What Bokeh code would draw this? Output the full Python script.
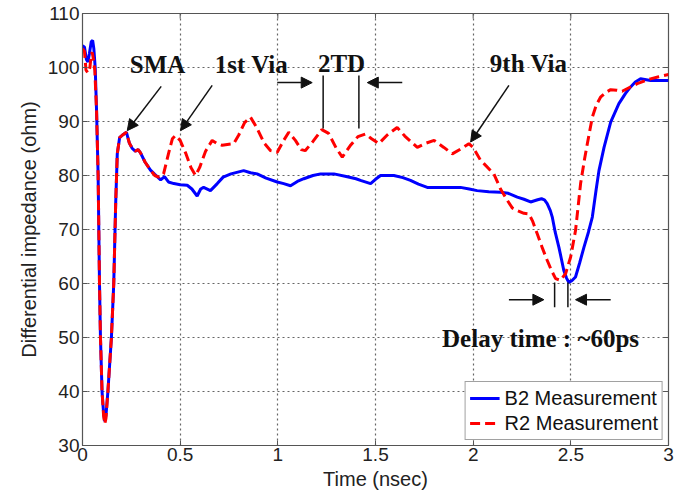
from bokeh.plotting import figure
from bokeh.models import (Range1d, FixedTicker, Legend, LegendItem,
                          Label, Arrow, NormalHead)
from bokeh.embed import file_html
from bokeh.resources import INLINE

# ---------------- data ----------------
b2_time = [0.000, 0.010, 0.020, 0.028, 0.035, 0.045, 0.052, 0.058, 0.065, 0.072,
           0.080, 0.087, 0.092, 0.100, 0.108, 0.114, 0.120, 0.130, 0.148, 0.160,
           0.170, 0.178, 0.190, 0.205, 0.225, 0.240, 0.255, 0.270, 0.285, 0.297,
           0.320, 0.348, 0.370, 0.400, 0.420, 0.440, 0.468, 0.500, 0.536, 0.560,
           0.587, 0.605, 0.620, 0.655, 0.690, 0.720, 0.760, 0.825, 0.860, 0.894,
           0.940, 0.997, 1.030, 1.065, 1.100, 1.133, 1.180, 1.219, 1.287, 1.350,
           1.400, 1.423, 1.475, 1.500, 1.526, 1.594, 1.640, 1.679, 1.720, 1.765,
           1.850, 1.935, 1.980, 2.020, 2.080, 2.140, 2.180, 2.226, 2.260, 2.294,
           2.330, 2.350, 2.365, 2.379, 2.395, 2.405, 2.420, 2.439, 2.452, 2.464,
           2.478, 2.490, 2.505, 2.524, 2.545, 2.567, 2.590, 2.610, 2.630, 2.644,
           2.670, 2.704, 2.746, 2.780, 2.806, 2.830, 2.857, 2.908, 2.950, 3.000]
b2_imp = [104.0, 103.8, 101.5, 101.0, 102.5, 104.8, 105.0, 103.5, 100.0, 92.0,
          80.0, 60.0, 50.0, 40.0, 36.0, 34.5, 35.5, 40.0, 50.0, 60.0,
          75.0, 84.0, 87.0, 87.5, 88.0, 86.0, 85.0, 84.5, 84.8, 84.2,
          82.5, 81.0, 80.2, 79.2, 79.8, 78.8, 78.5, 78.3, 78.2, 77.5,
          76.2, 77.5, 77.8, 77.2, 78.5, 79.7, 80.3, 80.9, 80.5, 80.3,
          79.5, 78.8, 78.5, 78.1, 78.9, 79.4, 80.0, 80.3, 80.3, 79.8,
          79.4, 79.1, 78.5, 79.3, 80.0, 80.0, 79.6, 79.1, 78.4, 77.8,
          77.8, 77.8, 77.5, 77.2, 77.0, 76.9, 76.7, 76.0, 75.6, 75.1,
          75.5, 75.7, 75.5, 74.8, 73.5, 72.3, 69.5, 66.7, 64.5, 62.4,
          61.0, 60.2, 60.5, 61.2, 63.8, 66.7, 69.5, 72.3, 77.5, 80.9,
          85.2, 89.9, 93.3, 95.2, 96.4, 97.3, 97.9, 97.6, 97.6, 97.6]

r2_time = [0.000, 0.010, 0.018, 0.028, 0.038, 0.045, 0.050, 0.056, 0.063, 0.072,
           0.080, 0.087, 0.092, 0.100, 0.108, 0.114, 0.120, 0.130, 0.148, 0.160,
           0.170, 0.178, 0.190, 0.205, 0.225, 0.240, 0.255, 0.270, 0.285, 0.297,
           0.320, 0.348, 0.370, 0.390, 0.405, 0.415, 0.440, 0.460, 0.476, 0.500,
           0.530, 0.555, 0.579, 0.600, 0.630, 0.664, 0.690, 0.715, 0.750, 0.774,
           0.800, 0.830, 0.860, 0.890, 0.930, 0.963, 0.997, 1.030, 1.056, 1.090,
           1.120, 1.140, 1.180, 1.225, 1.260, 1.300, 1.330, 1.370, 1.410, 1.449,
           1.480, 1.517, 1.560, 1.611, 1.650, 1.714, 1.760, 1.800, 1.850, 1.893,
           1.940, 1.978, 2.000, 2.038, 2.055, 2.106, 2.140, 2.175, 2.200, 2.226,
           2.260, 2.285, 2.305, 2.328, 2.355, 2.379, 2.400, 2.422, 2.447, 2.473,
           2.499, 2.524, 2.550, 2.570, 2.584, 2.610, 2.630, 2.652, 2.680, 2.704,
           2.735, 2.763, 2.800, 2.840, 2.908, 2.950, 3.000]
r2_imp = [103.5, 103.0, 99.5, 99.0, 100.0, 102.5, 102.8, 101.5, 99.5, 92.0,
          80.0, 60.0, 50.0, 40.0, 35.5, 34.0, 35.0, 40.0, 50.0, 60.0,
          75.0, 84.0, 87.0, 87.5, 88.0, 86.0, 85.0, 84.5, 84.8, 84.2,
          82.5, 81.0, 80.0, 79.7, 79.8, 80.3, 84.0, 86.8, 87.4, 86.5,
          84.0, 81.5, 80.0, 81.5, 84.5, 86.5, 85.9, 85.6, 85.8, 85.9,
          87.5, 89.8, 90.8, 89.0, 86.0, 84.6, 84.3, 86.5, 88.0, 86.5,
          84.8, 84.6, 86.3, 88.5, 87.8, 85.0, 83.4, 85.5, 87.2, 87.7,
          86.8, 85.9, 87.5, 88.9, 87.3, 85.2, 86.0, 86.5, 85.2, 84.0,
          85.0, 85.9, 85.2, 82.8, 82.2, 80.3, 77.5, 75.4, 74.0, 73.5,
          73.0, 72.9, 71.5, 69.2, 66.5, 64.3, 62.5, 60.9, 60.6, 61.8,
          64.9, 69.8, 78.5, 83.0, 85.8, 90.8, 93.0, 94.5, 95.4, 95.9,
          95.8, 95.6, 96.3, 97.0, 97.9, 98.3, 98.7]

series_names = ["B2 Measurement", "R2 Measurement"]
x_ticks = [0, 0.5, 1, 1.5, 2, 2.5, 3]
x_tick_labels = ["0", "0.5", "1", "1.5", "2", "2.5", "3"]
y_ticks = [30, 40, 50, 60, 70, 80, 90, 100, 110]
y_tick_labels = ["30", "40", "50", "60", "70", "80", "90", "100", "110"]

X0, X1, Y0, Y1 = 0, 3, 30, 110

# ---------------- figure ----------------
p = figure(width=690, height=493, output_backend="svg", toolbar_location=None,
           x_range=Range1d(X0, X1), y_range=Range1d(Y0, Y1),
           min_border_left=82, min_border_right=22, min_border_top=13,
           min_border_bottom=48, background_fill_color="white",
           border_fill_color="white")
p.outline_line_color = "#555555"
p.outline_line_width = 1.2

sans = "Liberation Sans"
for ax in (p.xaxis[0], p.yaxis[0]):
    ax.axis_line_color = "#555555"
    ax.major_tick_line_color = "#555555"
    ax.major_tick_in = 5
    ax.major_tick_out = 0
    ax.minor_tick_line_color = None
    ax.major_label_text_font = sans
    ax.major_label_text_font_size = "19px"
    ax.major_label_text_color = "#222222"
    ax.axis_label_text_font = sans
    ax.axis_label_text_font_size = "20px"
    ax.axis_label_text_font_style = "normal"
    ax.axis_label_text_color = "#222222"

p.xaxis[0].ticker = FixedTicker(ticks=x_ticks)
p.xaxis[0].major_label_overrides = dict(zip(x_ticks, x_tick_labels))
p.xaxis[0].major_label_standoff = 2
p.xaxis[0].axis_label = "Time (nsec)"
p.xaxis[0].axis_label_standoff = 4

p.yaxis[0].ticker = FixedTicker(ticks=y_ticks)
p.yaxis[0].major_label_overrides = dict(zip(y_ticks, y_tick_labels))
p.yaxis[0].major_label_standoff = 3
p.yaxis[0].axis_label = "Differential impedance (ohm)"
p.yaxis[0].axis_label_standoff = 5

# mirrored inward ticks on top and right edges (5 px long)
dy_tick = (Y1 - Y0) / 432 * 5
dx_tick = (X1 - X0) / 586 * 5
p.segment(x0=x_ticks, y0=[Y1] * len(x_ticks), x1=x_ticks, y1=[Y1 - dy_tick] * len(x_ticks),
          line_color="#555555", line_width=1)
p.segment(x0=[X1] * len(y_ticks), y0=y_ticks, x1=[X1 - dx_tick] * len(y_ticks), y1=y_ticks,
          line_color="#555555", line_width=1)

p.xgrid.ticker = FixedTicker(ticks=x_ticks)
p.ygrid.ticker = FixedTicker(ticks=y_ticks)
for g in (p.xgrid[0], p.ygrid[0]):
    g.grid_line_color = "#666666"
    g.grid_line_dash = "2 3"
    g.grid_line_width = 1.2

# ---------------- series ----------------
rb = p.line(b2_time, b2_imp, line_color="#0000FF", line_width=3)
rr = p.line(r2_time, r2_imp, line_color="#FF0000", line_width=3, line_dash="10 5")

# ---------------- annotations ----------------
serif = "Liberation Serif"

def label(x, y, txt):
    p.add_layout(Label(x=x, y=y, text=txt, text_font=serif, text_font_style="bold",
                       text_font_size="25px", text_align="center",
                       text_baseline="middle", text_color="#111111"))

def arrow(x0, y0, x1, y1):
    p.add_layout(Arrow(x_start=x0, y_start=y0, x_end=x1, y_end=y1,
                       line_color="#111111", line_width=1.5,
                       end=NormalHead(size=11, fill_color="#111111",
                                      line_color="#111111")))

label(0.384, 100.6, "SMA")
arrow(0.403, 96.5, 0.229, 88.3)
label(0.865, 100.6, "1st Via")
arrow(0.664, 96.7, 0.502, 88.3)
label(1.326, 100.7, "2TD")
p.segment(x0=[1.232, 1.415], y0=[98.5, 98.5], x1=[1.232, 1.415], y1=[88.7, 88.7],
          line_color="#111111", line_width=1.5)
arrow(0.997, 97.2, 1.176, 97.2)
arrow(1.637, 97.2, 1.458, 97.2)
label(2.284, 100.7, "9th Via")
arrow(2.183, 96.7, 1.987, 86.2)
p.segment(x0=[2.417, 2.485], y0=[60.2, 60.2], x1=[2.417, 2.485], y1=[55.6, 55.6],
          line_color="#111111", line_width=1.5)
arrow(2.183, 57.0, 2.362, 57.0)
arrow(2.704, 57.0, 2.524, 57.0)
label(2.345, 49.8, "Delay time : ~60ps")

# ---------------- legend ----------------
legend = Legend(items=[LegendItem(label=series_names[0], renderers=[rb]),
                       LegendItem(label=series_names[1], renderers=[rr])],
                location="bottom_right", margin=5, padding=4, spacing=1,
                glyph_width=30, glyph_height=24, label_height=24,
                label_standoff=5, label_text_font=sans,
                label_text_font_size="20px", label_text_color="#111111",
                border_line_color="#444444", border_line_width=1.2,
                background_fill_color="white", background_fill_alpha=1.0)
p.add_layout(legend, "center")

open("out.html", "w").write(file_html(p, INLINE))
